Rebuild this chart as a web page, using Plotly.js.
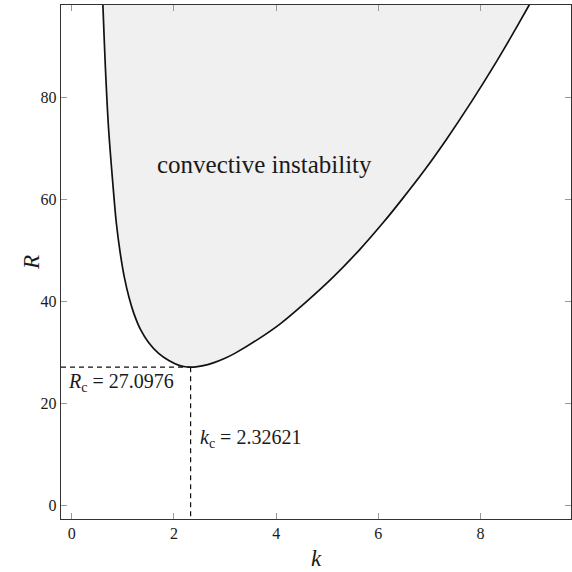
<!DOCTYPE html>
<html>
<head>
<meta charset="utf-8">
<script src="https://cdn.plot.ly/plotly-3.0.1.min.js"></script>
<style>
  html, body { margin: 0; padding: 0; background: #ffffff; }
  #chart { width: 572px; height: 572px; }
</style>
</head>
<body>
<div id="chart"></div>
<script>
// Neutral stability curve R(k); points above the curve are convectively unstable
const waveNumber = [0.60, 0.61, 0.66, 0.72, 0.805, 0.87, 0.95, 1.03, 1.12, 1.22, 1.35, 1.50, 1.70, 1.90, 2.10, 2.22, 2.32621,
                    2.43, 2.55, 2.77, 3.00, 3.20, 3.65, 4.08, 4.60, 5.12, 5.64, 6.10, 6.455, 6.88, 7.335, 7.82, 8.30, 8.56, 8.93, 9.0];
const rayleigh   = [101.0, 98.1, 85.5, 74.0, 63.0, 55.6, 49.4, 44.7, 40.8, 37.5, 34.4, 32.0, 29.8, 28.4, 27.45, 27.18, 27.0976,
                    27.15, 27.35, 27.95, 28.85, 29.85, 32.6, 35.6, 40.0, 44.8, 50.2, 55.5, 59.9, 65.4, 71.8, 79.1, 86.8, 91.2, 97.7, 98.95];

// Critical point
const kCrit = 2.32621;
const RCrit = 27.0976;

// Axis extents and ticks
const kRange = [-0.21, 9.77];
const RRange = [-2.67, 98.1];
const kTicks = [0, 2, 4, 6, 8];
const RTicks = [0, 20, 40, 60, 80];

const serif = 'Liberation Serif, Times New Roman, serif';
const ink = '#1a1a1a';

const traces = [
  {
    x: waveNumber, y: rayleigh,
    type: 'scatter', mode: 'lines',
    fill: 'toself', fillcolor: '#f0f0f0',
    line: { color: '#111111', width: 1.7, shape: 'spline', smoothing: 0.8 },
    hoverinfo: 'skip', showlegend: false
  },
  {
    x: [kRange[0], kCrit], y: [RCrit, RCrit],
    type: 'scatter', mode: 'lines',
    line: { color: '#111111', width: 1.2, dash: '5px,4px' },
    hoverinfo: 'skip', showlegend: false
  },
  {
    x: [kCrit, kCrit], y: [RCrit, RRange[0]],
    type: 'scatter', mode: 'lines',
    line: { color: '#111111', width: 1.2, dash: '5px,4px' },
    hoverinfo: 'skip', showlegend: false
  }
];

const axisCommon = {
  showgrid: false, zeroline: false,
  showline: true, linecolor: '#333333', linewidth: 1.2, mirror: 'ticks',
  ticks: 'inside', ticklen: 6, tickwidth: 1, tickcolor: '#999999',
  tickfont: { family: serif, size: 16, color: ink },
  fixedrange: true
};

const layout = {
  width: 572, height: 572,
  margin: { l: 61, r: 1, t: 5, b: 53 },
  paper_bgcolor: '#ffffff', plot_bgcolor: '#ffffff',
  font: { family: serif, size: 16, color: ink },
  xaxis: Object.assign({}, axisCommon, {
    range: kRange, tickvals: kTicks, ticktext: kTicks.map(String),
    title: { text: '<i>k</i>', font: { family: serif, size: 23, color: ink }, standoff: 8 }
  }),
  yaxis: Object.assign({}, axisCommon, {
    range: RRange, tickvals: RTicks, ticktext: RTicks.map(String)
  }),
  annotations: [
    {
      // y-axis label, placed beside the tick labels
      x: -0.059, y: 0.5, xref: 'paper', yref: 'paper',
      text: '<i>R</i>', showarrow: false, textangle: -90,
      xanchor: 'center', yanchor: 'middle',
      font: { family: serif, size: 23, color: ink }
    },
    {
      x: 3.77, y: 66.9, xref: 'x', yref: 'y',
      text: 'convective instability', showarrow: false,
      xanchor: 'center', yanchor: 'middle',
      font: { family: serif, size: 25, color: ink }
    },
    {
      x: -0.11, y: 24.0, xref: 'x', yref: 'y',
      text: '<i>R</i><sub>c</sub> = 27.0976', showarrow: false,
      xanchor: 'left', yanchor: 'middle',
      font: { family: serif, size: 20, color: ink }
    },
    {
      x: 2.48, y: 13.2, xref: 'x', yref: 'y',
      text: '<i>k</i><sub>c</sub> = 2.32621', showarrow: false,
      xanchor: 'left', yanchor: 'middle',
      font: { family: serif, size: 20, color: ink }
    }
  ]
};

Plotly.newPlot('chart', traces, layout, { staticPlot: true, displayModeBar: false });
</script>
</body>
</html>
